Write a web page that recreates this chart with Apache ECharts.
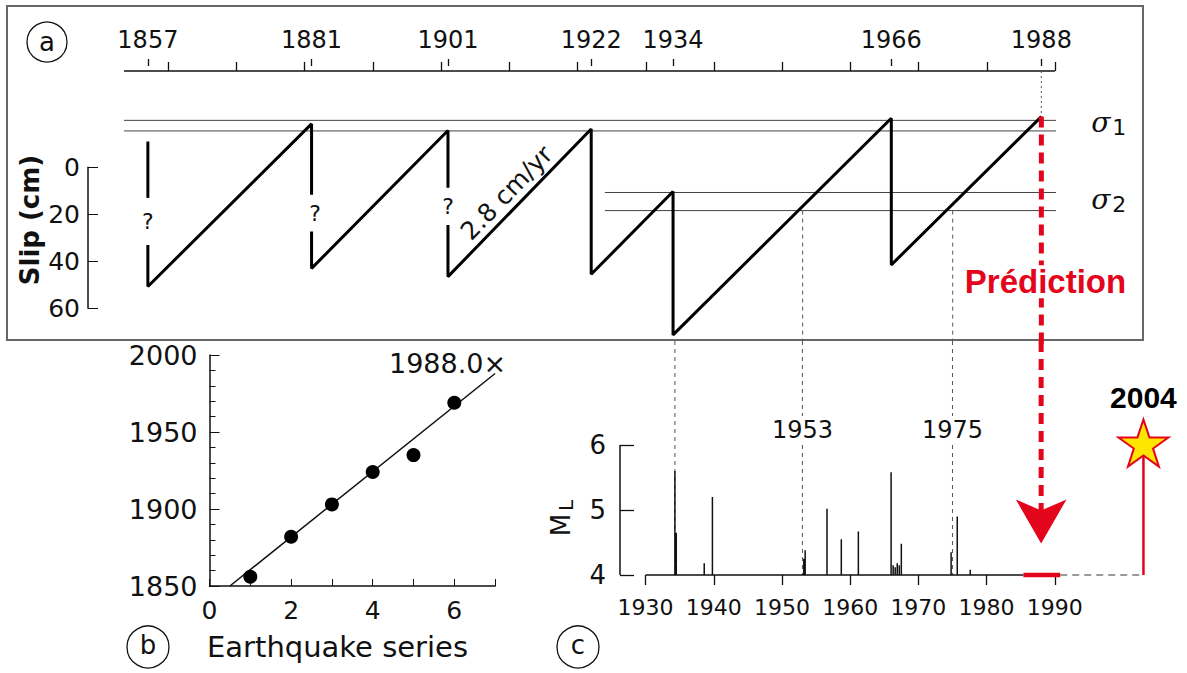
<!DOCTYPE html>
<html><head><meta charset="utf-8">
<script src="https://cdn.jsdelivr.net/npm/echarts@6/dist/echarts.min.js"></script>
<style>html,body{margin:0;padding:0;background:#fff}#c{width:1187px;height:673px}</style>
</head><body><div id="c"></div>
<script>
// ---------- Panel a : slip history ----------
const quakeYears = [1857, 1881, 1901, 1922, 1934, 1966];
const slipTop = [-11, -18.5, -15.7, -16.3, 10.3, -20.9];
const slipBottom = [50.7, 43.0, 46.5, 45.5, 71.3, 41.5];
const predictedYear = 1988;
const predictedSlip = -21.6;
const questionGapTop = [13, 11.7, 8.7];
const questionGapBottom = [33, 27.3, 24.5];
const questionMarks = [[1857, 23], [1881.5, 19.5], [1901, 16.6]];
const decadeTicks = [1860, 1870, 1880, 1890, 1900, 1910, 1920, 1930, 1940, 1950, 1960, 1970, 1980, 1990];
const eventLabels = [1857, 1881, 1901, 1922, 1934, 1966, 1988];
const slipTicks = [0, 20, 40, 60];
const sigma1 = [-20, -15.5];
const sigma2 = [10.7, 18.4];
const sigma2Start = 1924;
const sigmaEnd = 1994;
const crossingYears = [1953, 1975];
const rateLabel = [1909.6, 10.8];
// ---------- Panel b : recurrence ----------
const seriesIndex = [1, 2, 3, 4, 5, 6];
const seriesYears = [1856, 1882, 1903, 1924, 1935, 1969];
const fitStart = [0.5, 1850];
const fitEnd = [7.0, 1988];
// ---------- Panel c : seismicity ----------
const shockYears = [1934.3, 1934.5, 1938.6, 1939.8, 1953.2, 1953.4, 1956.6, 1958.7, 1961.2, 1966.0, 1966.3, 1966.6, 1966.9, 1967.2, 1967.5, 1974.8, 1975.7, 1977.6];
const shockML = [5.6, 4.65, 4.18, 5.2, 4.25, 4.38, 5.02, 4.55, 4.67, 5.58, 4.15, 4.12, 4.18, 4.15, 4.48, 4.35, 4.9, 4.08];
const cTicks = [1930, 1940, 1950, 1960, 1970, 1980, 1990];
const mlTicks = [4, 5, 6];
const predictionWindow = [1985.4, 1990.8];
const eventYear2004 = 2003;
const starML = 6.03;
const arrowML = 4.485;
const arrowBaseML = 4.8;
const yearLabelML = 6.23;

const FONT = 'DejaVu Sans';
const RED = '#e3051b';
const A_MIN = -41, A_MAX = 75;
const C_MIN_X = 1926.25, C_MAX_X = 2006, C_MAX_Y = 7.6;

function line(xi, yi, data, color, width, type, z) {
  return {type: 'line', xAxisIndex: xi, yAxisIndex: yi, data: data, symbol: 'none', clip: false,
    silent: true, animation: false, z: z || 2, lineStyle: {color: color, width: width, type: type || 'solid', cap: 'butt', opacity: 1}};
}
function textPoint(xi, yi, data, fmt, style, z) {
  return {type: 'scatter', xAxisIndex: xi, yAxisIndex: yi, data: data, symbolSize: 0, clip: false, silent: true,
    animation: false, z: z || 5, itemStyle: {opacity: 1},
    label: Object.assign({show: true, formatter: fmt, position: 'inside', opacity: 1}, style)};
}

// sawtooth polylines
const saw = [];
let cur = [];
quakeYears.forEach((yr, i) => {
  cur.push([yr, slipTop[i]]);
  if (i < questionGapTop.length) {
    cur.push([yr, questionGapTop[i]]);
    saw.push(cur);
    cur = [[yr, questionGapBottom[i]]];
  }
  cur.push([yr, slipBottom[i]]);
});
cur.push([predictedYear, predictedSlip]);
saw.push(cur);

// seismicity polyline
const shocks = shockYears.map((y, i) => [y, shockML[i]]).sort((a, b) => a[0] - b[0]);
const spikeLine = [[1930, 4]];
shocks.forEach(s => { spikeLine.push([s[0], 4], [s[0], s[1]], [s[0], 4]); });
spikeLine.push([predictionWindow[0], 4]);

const sigmaRich = {
  s: {fontFamily: 'DejaVu Serif', fontStyle: 'italic', fontSize: 28, color: '#111', verticalAlign: 'top', lineHeight: 30},
  n: {fontFamily: FONT, fontSize: 22, color: '#111', verticalAlign: 'bottom', lineHeight: 22, padding: [14, 0, 0, 2]}
};

const series = [];
// panel a
saw.forEach(p => series.push(line(0, 0, p, '#000', 3, 'solid', 4)));
series.push(line(0, 0, [[1853.5, A_MIN], [1990, A_MIN]], '#111', 1.5));
series.push(line(0, 0, [[1991, A_MIN], [1995, A_MIN]], '#111', 1.5));
sigma1.forEach(s => series.push(line(0, 0, [[1853.5, s], [sigmaEnd, s]], '#444', 1)));
sigma2.forEach(s => series.push(line(0, 0, [[sigma2Start, s], [sigmaEnd, s]], '#444', 1)));
crossingYears.forEach(y => series.push(line(0, 0, [[y, sigma2[1]], [y, A_MAX - 1.5]], '#555', 1, [4, 4])));
series.push(line(0, 0, [[predictedYear, A_MIN], [predictedYear, predictedSlip]], '#555', 1, [2, 3]));
series.push(line(0, 0, [[predictedYear, predictedSlip], [predictedYear, A_MAX]], RED, 5, [11, 7], 6));
series.push(textPoint(0, 0, questionMarks, '?', {fontFamily: FONT, fontSize: 22, color: '#111'}));
series.push(textPoint(0, 0, [rateLabel], '2.8 cm/yr', {fontFamily: FONT, fontSize: 25, color: '#111', rotate: 46}));
series.push(textPoint(0, 0, [[sigmaEnd + 1.3, sigma1[0] + 1.5]], '{s|σ}{n|1}', {position: 'right', distance: 0, rich: sigmaRich}));
series.push(textPoint(0, 0, [[sigmaEnd + 1.3, sigma2[0] + 3.5]], '{s|σ}{n|2}', {position: 'right', distance: 0, rich: sigmaRich}));
series.push(textPoint(0, 0, [[predictedYear + 0.6, 48.7]], 'Prédiction', {fontFamily: 'Liberation Sans', fontWeight: 'bold',
  fontSize: 33, color: RED, backgroundColor: '#fff', padding: [0, 1]}, 8));

// panel b
series.push(line(3, 2, [fitStart, fitEnd], '#111', 1.5));
series.push({type: 'scatter', xAxisIndex: 3, yAxisIndex: 2, data: seriesIndex.map((v, i) => [v, seriesYears[i]]),
  symbolSize: 14, itemStyle: {color: '#000', opacity: 1}, silent: true, animation: false, z: 4});
series.push(textPoint(3, 2, [fitEnd], '1988.0×', {position: 'left', distance: -11, offset: [0, -10],
  fontFamily: FONT, fontSize: 27, color: '#111'}));

// panel c
series.push(line(4, 3, [[C_MIN_X, 4], [C_MIN_X, 6]], '#111', 1.5));
series.push(line(4, 3, spikeLine, '#111', 1.5, 'solid', 3));
series.push(line(4, 3, [[1934.3, C_MAX_Y], [1934.3, 4]], '#555', 1, [4, 4], 2));
crossingYears.forEach(y => series.push(line(4, 3, [[y, C_MAX_Y], [y, 4]], '#555', 1, [4, 4], 2)));
series.push(textPoint(4, 3, crossingYears.map(y => [y, yearLabelML]), p => String(p.value[0]),
  {fontFamily: FONT, fontSize: 24, color: '#111', backgroundColor: '#fff', padding: [2, 2]}));
series.push(line(4, 3, [[predictedYear, C_MAX_Y], [predictedYear, arrowBaseML]], RED, 5, [11, 7], 6));
series.push({type: 'scatter', xAxisIndex: 4, yAxisIndex: 3, data: [[predictedYear, arrowML]], symbol: 'arrow',
  symbolRotate: 180, symbolSize: [38, 44], itemStyle: {color: RED, opacity: 1}, silent: true, animation: false, z: 7});
series.push(line(4, 3, [[predictionWindow[0], 4], [predictionWindow[1], 4]], RED, 4.5, 'solid', 6));
series.push(line(4, 3, [[predictionWindow[1], 4], [eventYear2004, 4]], '#999', 2, [7, 5], 2));
series.push(line(4, 3, [[eventYear2004, 4], [eventYear2004, starML]], RED, 2.5, 'solid', 3));
series.push({type: 'scatter', xAxisIndex: 4, yAxisIndex: 3, data: [[eventYear2004, starML]],
  symbol: 'path://M50,0 L61.8,35.1 L98.9,35.1 L68.8,56.8 L80.2,91.9 L50,70.2 L19.8,91.9 L31.2,56.8 L1.1,35.1 L38.2,35.1 Z',
  symbolSize: [50, 47], itemStyle: {color: '#ffe600', borderColor: RED, borderWidth: 2, opacity: 1}, silent: true, animation: false, z: 7,
  label: {show: true, formatter: '2004', position: 'top', distance: 6, fontFamily: 'Liberation Sans', fontWeight: 'bold', fontSize: 30, color: '#000'}});

const axisLab = {fontFamily: FONT, fontSize: 24, color: '#111', formatter: v => String(v)};
const option = {
  backgroundColor: '#fff',
  animation: false,
  grid: [
    {left: 124, top: 71, width: 931, height: 272.6},
    {left: 88, top: 167.35, width: 10, height: 141},
    {left: 209.5, top: 355, width: 285.6, height: 231},
    {left: 620, top: 341, width: 543.9, height: 234}
  ],
  xAxis: [
    {gridIndex: 0, type: 'value', position: 'top', min: 1853.5, max: 1990, splitLine: {show: false},
      axisLine: {show: false, onZero: false}, axisTick: {show: true, customValues: decadeTicks, length: 9, lineStyle: {color: '#111', width: 1.3}},
      axisLabel: {show: false}},
    {gridIndex: 0, type: 'value', position: 'top', offset: 5, min: 1853.5, max: 1990, splitLine: {show: false},
      axisLine: {show: false, onZero: false}, axisTick: {show: true, customValues: eventLabels, length: 7, lineStyle: {color: '#111', width: 1.3}},
      axisLabel: Object.assign({show: true, customValues: eventLabels, margin: 14}, axisLab)},
    {gridIndex: 1, type: 'value', show: false, min: 0, max: 1},
    {gridIndex: 2, type: 'value', min: 0, max: 7, interval: 1, splitLine: {show: false},
      axisLine: {onZero: false, lineStyle: {color: '#111', width: 1.5}}, axisTick: {inside: true, length: 7, lineStyle: {color: '#111'}},
      axisLabel: Object.assign({}, axisLab, {margin: 12, fontSize: 25, formatter: v => (v % 2 === 0 ? String(v) : '')})},
    {gridIndex: 3, type: 'value', min: C_MIN_X, max: C_MAX_X, splitLine: {show: false},
      axisLine: {show: false, onZero: false}, axisTick: {show: true, customValues: cTicks, length: 10, lineStyle: {color: '#111', width: 1.3}},
      axisLabel: Object.assign({show: true, customValues: cTicks, margin: 21}, axisLab, {fontSize: 22})}
  ],
  yAxis: [
    {gridIndex: 0, type: 'value', show: false, inverse: true, min: A_MIN, max: A_MAX},
    {gridIndex: 1, type: 'value', inverse: true, min: 0, max: 60, interval: 20, splitLine: {show: false},
      axisLine: {show: true, onZero: false, lineStyle: {color: '#111', width: 1.5}}, axisTick: {show: true, inside: true, length: 10, lineStyle: {color: '#111'}},
      axisLabel: Object.assign({margin: 8}, axisLab, {fontSize: 25})},
    {gridIndex: 2, type: 'value', min: 1850, max: 2000, interval: 50, splitLine: {show: false},
      axisLine: {show: true, onZero: false, lineStyle: {color: '#111', width: 1.5}}, axisTick: {show: true, inside: true, length: 10, lineStyle: {color: '#111'}},
      minorTick: {show: true, splitNumber: 5, length: 6, lineStyle: {color: '#111'}},
      axisLabel: Object.assign({margin: 12}, axisLab, {fontSize: 27})},
    {gridIndex: 3, type: 'value', min: 4, max: C_MAX_Y, splitLine: {show: false},
      axisLine: {show: false, onZero: false}, axisTick: {show: true, inside: true, customValues: mlTicks, length: 14, lineStyle: {color: '#111', width: 1.3}},
      axisLabel: Object.assign({show: true, customValues: mlTicks, margin: 14}, axisLab, {fontSize: 26})}
  ],
  graphic: [
    {type: 'rect', shape: {x: 7, y: 6, width: 1136, height: 334}, style: {fill: null, stroke: '#666', lineWidth: 2}, z: 1, silent: true},
    {type: 'circle', shape: {cx: 47, cy: 42, r: 20}, style: {fill: '#fff', stroke: '#111', lineWidth: 1.3}, silent: true},
    {type: 'text', x: 47, y: 42, style: {text: 'a', fontFamily: FONT, fontSize: 26, fill: '#111', align: 'center', verticalAlign: 'middle'}, silent: true},
    {type: 'circle', shape: {cx: 148, cy: 647, r: 21}, style: {fill: '#fff', stroke: '#111', lineWidth: 1.3}, silent: true},
    {type: 'text', x: 148, y: 645, style: {text: 'b', fontFamily: FONT, fontSize: 26, fill: '#111', align: 'center', verticalAlign: 'middle'}, silent: true},
    {type: 'circle', shape: {cx: 578, cy: 647, r: 21}, style: {fill: '#fff', stroke: '#111', lineWidth: 1.3}, silent: true},
    {type: 'text', x: 578, y: 645, style: {text: 'c', fontFamily: FONT, fontSize: 26, fill: '#111', align: 'center', verticalAlign: 'middle'}, silent: true},
    {type: 'text', x: 207, y: 647, style: {text: 'Earthquake series', fontFamily: FONT, fontSize: 29, fill: '#111', align: 'left', verticalAlign: 'middle'}, silent: true},
    {type: 'text', x: 30, y: 220, rotation: Math.PI / 2, style: {text: 'Slip (cm)', fontFamily: FONT, fontWeight: 'bold', fontSize: 26, fill: '#111', align: 'center', verticalAlign: 'middle'}, silent: true},
    {type: 'text', x: 562, y: 518, rotation: Math.PI / 2, style: {text: '{m|M}{l|L}', align: 'center', verticalAlign: 'middle',
      rich: {m: {fontFamily: FONT, fontSize: 26, fill: '#111', verticalAlign: 'top', lineHeight: 28},
             l: {fontFamily: FONT, fontSize: 20, fill: '#111', verticalAlign: 'bottom', lineHeight: 20, padding: [14, 0, 0, 3]}}}, silent: true}
  ],
  series: series
};
const chart = echarts.init(document.getElementById('c'), null, {renderer: 'svg', width: 1187, height: 673});
chart.setOption(option);
</script>
</body></html>
